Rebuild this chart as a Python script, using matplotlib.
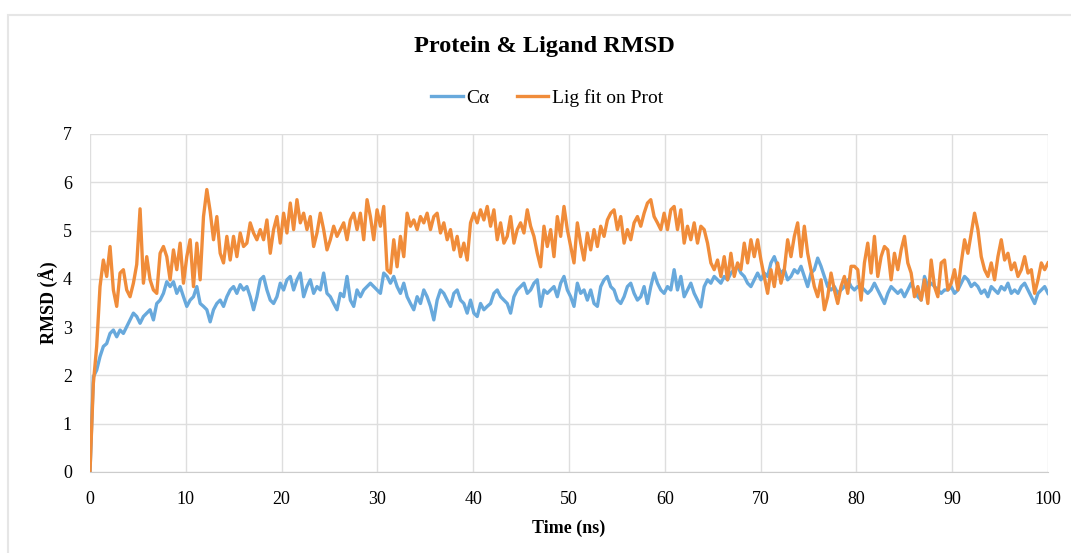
import numpy as np
import matplotlib.pyplot as plt
from matplotlib.patches import Rectangle

# RMSD (Angstrom), one value every ~0.35 ns from 0 to 100 ns
ca_rmsd = [
    # 0 - 19.5 ns
    0.00, 1.97, 2.11, 2.39, 2.60, 2.66, 2.87, 2.94, 2.80, 2.94, 2.87, 3.01, 3.15, 3.29, 3.22,
    3.08, 3.22, 3.29, 3.36, 3.15, 3.49, 3.56, 3.70, 3.94, 3.84, 3.94, 3.70, 3.84, 3.63, 3.43,
    3.56, 3.63, 3.84, 3.49, 3.43, 3.36, 3.11, 3.36, 3.49, 3.56, 3.43, 3.63, 3.77, 3.84, 3.70,
    3.88, 3.77, 3.84, 3.63, 3.36, 3.63, 3.98, 4.05, 3.77, 3.56, 3.49, 3.63,
    # 19.5 - 39.6 ns
    3.91, 3.77, 3.98, 4.05, 3.77, 3.98, 4.12, 3.63, 3.84, 3.98, 3.70, 3.84, 3.77, 4.12, 3.70,
    3.63, 3.49, 3.36, 3.70, 3.63, 4.05, 3.56, 3.43, 3.77, 3.63, 3.77, 3.84, 3.91, 3.84, 3.77,
    3.70, 4.12, 4.05, 3.91, 4.05, 3.84, 3.70, 3.91, 3.63, 3.49, 3.36, 3.63, 3.49, 3.77, 3.63,
    3.43, 3.15, 3.56, 3.77, 3.70, 3.56, 3.43, 3.70, 3.77, 3.56, 3.49, 3.29, 3.56,
    # 39.9 - 59.4 ns
    3.29, 3.22, 3.49, 3.36, 3.43, 3.49, 3.70, 3.77, 3.63, 3.56, 3.49, 3.29, 3.63, 3.77, 3.84,
    3.91, 3.70, 3.77, 3.91, 3.98, 3.43, 3.77, 3.70, 3.77, 3.84, 3.63, 3.91, 4.05, 3.77, 3.63,
    3.43, 3.91, 3.70, 3.77, 3.56, 3.77, 3.49, 3.43, 3.84, 3.98, 4.05, 3.84, 3.77, 3.56, 3.49,
    3.63, 3.84, 3.91, 3.70, 3.56, 3.63, 3.84, 3.49, 3.84, 4.12, 3.91, 3.77,
    # 59.8 - 79.1 ns
    3.70, 3.84, 3.77, 4.19, 3.77, 4.05, 3.63, 3.77, 3.91, 3.70, 3.56, 3.42, 3.84, 3.98, 3.91,
    4.05, 3.98, 3.91, 4.05, 3.98, 4.12, 4.19, 4.26, 4.12, 4.05, 3.91, 3.84, 3.98, 4.12, 3.98,
    4.12, 4.05, 4.33, 4.46, 4.26, 4.12, 4.19, 3.98, 4.05, 4.19, 4.12, 4.26, 4.05, 3.84, 4.12,
    4.19, 4.43, 4.26, 4.05, 3.84, 3.77, 3.84, 3.70, 3.77, 3.84, 3.98, 3.84,
    # 79.6 - 100 ns
    3.77, 3.84, 3.84, 3.77, 3.70, 3.77, 3.91, 3.77, 3.63, 3.49, 3.70, 3.84, 3.77, 3.70, 3.77,
    3.63, 3.77, 3.91, 3.77, 3.63, 3.56, 4.05, 3.84, 3.91, 3.84, 3.77, 3.70, 3.77, 3.77, 3.84,
    3.70, 3.77, 3.91, 4.05, 3.98, 3.84, 3.91, 3.84, 3.70, 3.77, 3.63, 3.84, 3.77, 3.70, 3.84,
    3.77, 3.91, 3.70, 3.77, 3.70, 3.84, 3.91, 3.77, 3.63, 3.49, 3.70, 3.77, 3.84, 3.70,
]

lig_rmsd = [
    # 0 - 19.5 ns
    0.00, 1.83, 2.60, 3.84, 4.39, 4.05, 4.67, 3.77, 3.43, 4.12, 4.19, 3.77, 3.63, 3.91, 4.30,
    5.45, 3.91, 4.46, 3.98, 3.77, 3.70, 4.53, 4.67, 4.46, 3.98, 4.60, 4.19, 4.74, 3.91, 4.46,
    4.81, 3.84, 4.74, 3.98, 5.29, 5.85, 5.40, 4.81, 5.29, 4.53, 4.33, 4.88, 4.39, 4.88, 4.46,
    4.95, 4.67, 4.74, 5.16, 4.95, 4.81, 5.02, 4.81, 5.22, 4.53, 5.02, 5.29,
    # 19.5 - 39.6 ns
    4.74, 5.36, 4.95, 5.57, 5.02, 5.64, 5.16, 5.36, 5.02, 5.29, 4.67, 4.95, 5.36, 5.02, 4.60,
    4.81, 5.09, 4.88, 5.02, 5.16, 4.81, 5.22, 5.36, 5.02, 5.36, 4.81, 5.64, 5.29, 4.81, 5.43,
    5.09, 5.50, 4.19, 4.12, 4.81, 4.25, 4.88, 4.46, 5.36, 5.09, 5.22, 5.02, 5.29, 5.16, 5.36,
    5.02, 5.29, 5.36, 4.95, 5.16, 4.81, 5.02, 4.60, 4.88, 4.46, 4.74, 4.39, 5.16,
    # 39.9 - 59.4 ns
    5.36, 5.16, 5.43, 5.22, 5.50, 5.09, 5.43, 4.81, 5.16, 4.74, 4.88, 5.29, 4.74, 5.02, 5.16,
    4.95, 5.43, 5.09, 4.88, 4.53, 4.25, 5.09, 4.67, 5.02, 4.46, 5.29, 4.88, 5.50, 5.02, 4.67,
    4.33, 5.16, 4.74, 4.39, 4.95, 4.60, 5.02, 4.67, 5.09, 4.88, 5.22, 5.36, 5.43, 5.02, 5.29,
    4.74, 5.02, 4.81, 5.16, 5.29, 5.09, 5.36, 5.57, 5.64, 5.29, 5.16, 5.02,
    # 59.8 - 79.1 ns
    5.36, 5.02, 5.43, 5.50, 5.02, 5.43, 4.74, 5.09, 4.81, 5.16, 4.74, 5.09, 5.02, 4.74, 4.33,
    4.19, 4.39, 4.05, 4.46, 3.98, 4.53, 4.05, 4.33, 4.19, 4.74, 4.33, 4.81, 4.46, 4.81, 4.39,
    4.05, 3.70, 4.19, 3.84, 4.33, 3.91, 4.19, 4.81, 4.46, 4.88, 5.16, 4.46, 5.09, 4.53, 4.19,
    3.84, 3.63, 3.98, 3.36, 3.63, 4.12, 3.77, 3.49, 3.84, 4.05, 3.70, 4.26,
    # 79.6 - 100 ns
    4.26, 4.19, 3.56, 4.33, 4.74, 4.12, 4.88, 4.05, 4.46, 4.67, 4.60, 3.98, 4.53, 4.19, 4.60,
    4.88, 4.33, 4.12, 3.63, 3.84, 3.56, 3.98, 3.49, 4.39, 3.84, 3.63, 4.33, 4.39, 3.77, 3.91,
    4.19, 3.77, 4.33, 4.81, 4.53, 4.95, 5.36, 5.02, 4.46, 4.19, 4.05, 4.33, 3.98, 4.46, 4.81,
    4.39, 4.53, 4.19, 4.33, 4.05, 4.19, 4.46, 4.12, 4.19, 3.70, 3.98, 4.33, 4.19, 4.33,
]

time_ns = np.linspace(0, 100, len(ca_rmsd))

x_ticks = [0, 10, 20, 30, 40, 50, 60, 70, 80, 90, 100]
y_ticks = [0, 1, 2, 3, 4, 5, 6, 7]

plt.rcParams['font.family'] = ['Liberation Serif', 'DejaVu Serif']

fig = plt.figure(figsize=(10.71, 5.53), dpi=100)
ax = fig.add_axes([90 / 1071, 1 - 472 / 553, 958 / 1071, 338 / 553])

# light chart-area border like the spreadsheet export
fig.patches.append(Rectangle((8 / 1071, -0.1), 1.2, 1 - 15 / 553 + 0.1,
                             transform=fig.transFigure, fill=False,
                             edgecolor='#e6e6e6', linewidth=1.5))

ax.plot(time_ns, ca_rmsd, color='#68a9dc', linewidth=2.4, label='C\u03b1')
ax.plot(time_ns, lig_rmsd, color='#f08c3a', linewidth=2.4, label='Lig fit on Prot')

ax.set_xlim(0, 100)
ax.set_ylim(0, 7)
ax.set_xticks(x_ticks)
ax.set_yticks(y_ticks)
ax.grid(True, color='#dedede', linewidth=1.0)
ax.set_axisbelow(True)
for side in ['top', 'right', 'left']:
    ax.spines[side].set_visible(False)
ax.spines['bottom'].set_color('#cccccc')
ax.tick_params(length=0, labelsize=13)
ax.tick_params(axis='x', pad=14)
ax.tick_params(axis='y', pad=13)

ax.set_xlabel('Time (ns)', fontsize=13, fontweight='bold', labelpad=8)
ax.set_ylabel('RMSD (\u00c5)', fontsize=13, fontweight='bold', labelpad=3)

fig.text(0.508, 1 - 47 / 553, 'Protein & Ligand RMSD', ha='center', va='center',
         fontsize=17.5, fontweight='bold')
fig.legend(loc='center', bbox_to_anchor=(0.511, 1 - 98 / 553), ncol=2, frameon=False,
           fontsize=14, handlelength=1.6, handletextpad=0.2, columnspacing=1.4)

fig.savefig('out.png', dpi=100)
